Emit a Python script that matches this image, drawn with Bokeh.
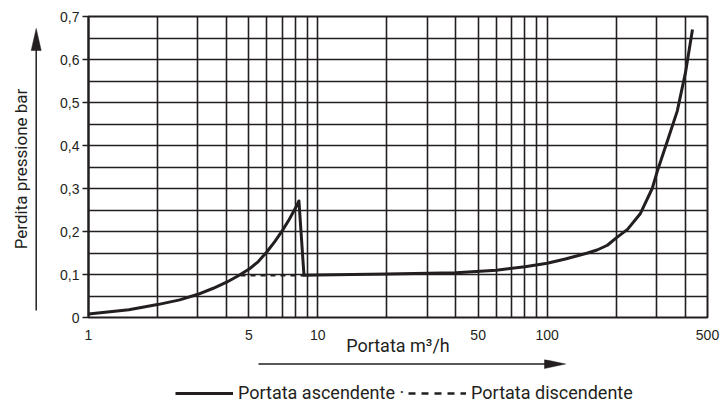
from math import pi, nan
from bokeh.plotting import figure
from bokeh.layouts import row, column
from bokeh.models import FixedTicker, CustomJSTickFormatter, Legend, LegendItem
from bokeh.core.properties import value
from bokeh.embed import file_html
from bokeh.resources import INLINE

# ---- data ----
flow_asc = [1, 1.5, 2, 2.5, 3, 3.5, 4, 4.5, 5, 5.5, 6, 6.5, 7, 7.5, 8, 8.27,
            8.7, 10, 20, 40, 60, 80, 100, 120, 150, 165, 183, 202, 224, 255,
            287, 302, 334, 369, 401, 430]
loss_asc = [0.008, 0.018, 0.03, 0.041, 0.054, 0.068, 0.082, 0.097, 0.112, 0.13,
            0.153, 0.177, 0.202, 0.228, 0.255, 0.271,
            0.098, 0.099, 0.101, 0.104, 0.11, 0.118, 0.126, 0.136, 0.15, 0.157,
            0.168, 0.187, 0.205, 0.242, 0.3, 0.34, 0.41, 0.48, 0.57, 0.67]
flow_desc = [4.6, 8.7]
loss_desc = [0.098, 0.098]

x_tick_values = [1, 5, 10, 50, 100, 500]
y_tick_values = [0, 0.1, 0.2, 0.3, 0.4, 0.5, 0.6, 0.7]
x_grid_values = [1, 2, 3, 4, 5, 6, 7, 8, 9, 10, 20, 30, 40, 50, 60, 70, 80, 90,
                 100, 200, 300, 400, 500]
y_grid_values = [0, 0.05, 0.1, 0.15, 0.2, 0.25, 0.3, 0.35, 0.4, 0.45, 0.5, 0.55,
                 0.6, 0.65, 0.7]

label_asc = "Portata ascendente ·"
label_desc = "Portata discendente"
x_title = "Portata m³/h"
y_title = "Perdita pressione bar"

INK = "#231f20"
TFONT = "Roboto"
REG = "Liberation Sans"
TITLE_SIZE = "18px"

# ---- layout sizes (pixels) ----
LEFT_W, MAIN_W, TOP_H = 50, 670, 359
BOTTOM_H = 403 - TOP_H
B_LEFT, B_RIGHT, B_TOP, B_BOTTOM = 38, 13, 16, 42
FRAME_TOP, FRAME_BOTTOM = B_TOP, TOP_H - B_BOTTOM


def strip(w, h, y_top, y_bottom, top=0, bottom=0):
    # a decoration panel whose y coordinates are measured in page pixels (downward)
    f = figure(width=w, height=h, x_range=(0, w), y_range=(y_bottom, y_top),
               output_backend="svg", toolbar_location=None,
               x_axis_location=None, y_axis_location=None,
               min_border_left=0, min_border_right=0, min_border_top=top,
               min_border_bottom=bottom)
    f.grid.visible = False
    f.outline_line_color = None
    f.background_fill_color = "white"
    f.border_fill_color = "white"
    return f


# ---- main chart ----
p = figure(width=MAIN_W, height=TOP_H, x_axis_type="log", x_range=(1, 500),
           y_range=(0, 0.7), output_backend="svg", toolbar_location=None,
           min_border_left=B_LEFT, min_border_right=B_RIGHT, min_border_top=B_TOP,
           min_border_bottom=B_BOTTOM)
p.background_fill_color = "white"
p.border_fill_color = "white"
p.outline_line_color = INK
p.outline_line_width = 2

p.xgrid.ticker = FixedTicker(ticks=x_grid_values)
p.ygrid.ticker = FixedTicker(ticks=y_grid_values)
for g in (p.xgrid, p.ygrid):
    g.grid_line_color = INK
    g.grid_line_width = 1.6
    g.grid_line_alpha = 1

xa = p.xaxis[0]
xa.ticker = FixedTicker(ticks=x_tick_values, minor_ticks=[])
xa.formatter = CustomJSTickFormatter(code="return tick.toString();")
xa.major_tick_out = 0
xa.major_tick_in = 0
xa.minor_tick_out = 0
xa.minor_tick_in = 0
xa.axis_line_color = None
xa.major_label_standoff = 12
xa.major_label_text_font = REG
xa.major_label_text_font_size = "14px"
xa.major_label_text_color = INK
xa.axis_label = x_title
xa.axis_label_standoff = -8
xa.axis_label_text_font = TFONT
xa.axis_label_text_font_style = "normal"
xa.axis_label_text_font_size = TITLE_SIZE
xa.axis_label_text_color = INK

ya = p.yaxis[0]
ya.ticker = FixedTicker(ticks=y_tick_values, minor_ticks=[])
ya.formatter = CustomJSTickFormatter(
    code="return tick == 0 ? '0' : tick.toFixed(1).replace('.', ',');")
ya.major_tick_out = 6
ya.major_tick_in = 0
ya.major_tick_line_color = INK
ya.major_tick_line_width = 1.6
ya.minor_tick_out = 0
ya.minor_tick_in = 0
ya.axis_line_color = INK
ya.axis_line_width = 2
ya.major_label_standoff = 3
ya.major_label_text_font = REG
ya.major_label_text_font_size = "14px"
ya.major_label_text_color = INK

p.line(flow_asc, loss_asc, line_color=INK, line_width=3, line_join="round")
p.line(flow_desc, loss_desc, line_color=INK, line_width=2.4, line_dash="5 5")

# ---- left strip: y title and upward arrow (frame aligned with the chart frame) ----
lf = strip(LEFT_W, TOP_H, FRAME_TOP, FRAME_BOTTOM, top=B_TOP, bottom=B_BOTTOM)
lf.text(x=[20.5], y=[168.5], text=[y_title], angle=pi / 2, text_align="center",
        text_baseline="middle", text_font=value(TFONT), text_font_size="17px",
        text_color=INK)
lf.segment(x0=[35.7], y0=[310], x1=[35.7], y1=[47], line_color=INK, line_width=1.5)
lf.patch(x=[30.7, 35.7, 40.7], y=[50, 28, 50], fill_color=INK, line_color=INK,
         line_width=0.5)

# ---- bottom strip: right arrow and legend ----
bf = strip(LEFT_W + MAIN_W, BOTTOM_H, TOP_H, 403)
bf.segment(x0=[258], y0=[363.5], x1=[547], y1=[363.5], line_color=INK,
           line_width=1.5)
bf.patch(x=[544, 565, 544], y=[359, 363.5, 368], fill_color=INK, line_color=INK,
         line_width=0.5)

# legend sample renderers (same styles as the curves, nothing visible of their own)
s_asc = bf.line(x=[0, 1], y=[nan, nan], line_color=INK, line_width=3)
s_desc = bf.line(x=[0, 1], y=[nan, nan], line_color=INK, line_width=2.4,
                 line_dash="7 6")
legend = Legend(items=[LegendItem(label=label_asc, renderers=[s_asc]),
                       LegendItem(label=label_desc, renderers=[s_desc])],
                orientation="horizontal", location=(175, 0),
                glyph_width=58, glyph_height=18, label_standoff=5, spacing=4,
                padding=0, margin=0, border_line_color=None,
                background_fill_alpha=0,
                label_text_font=TFONT, label_text_font_size=TITLE_SIZE,
                label_text_color=INK)
bf.add_layout(legend, "center")

layout = column(row(lf, p), bf)
open("out.html", "w").write(file_html(layout, INLINE))
